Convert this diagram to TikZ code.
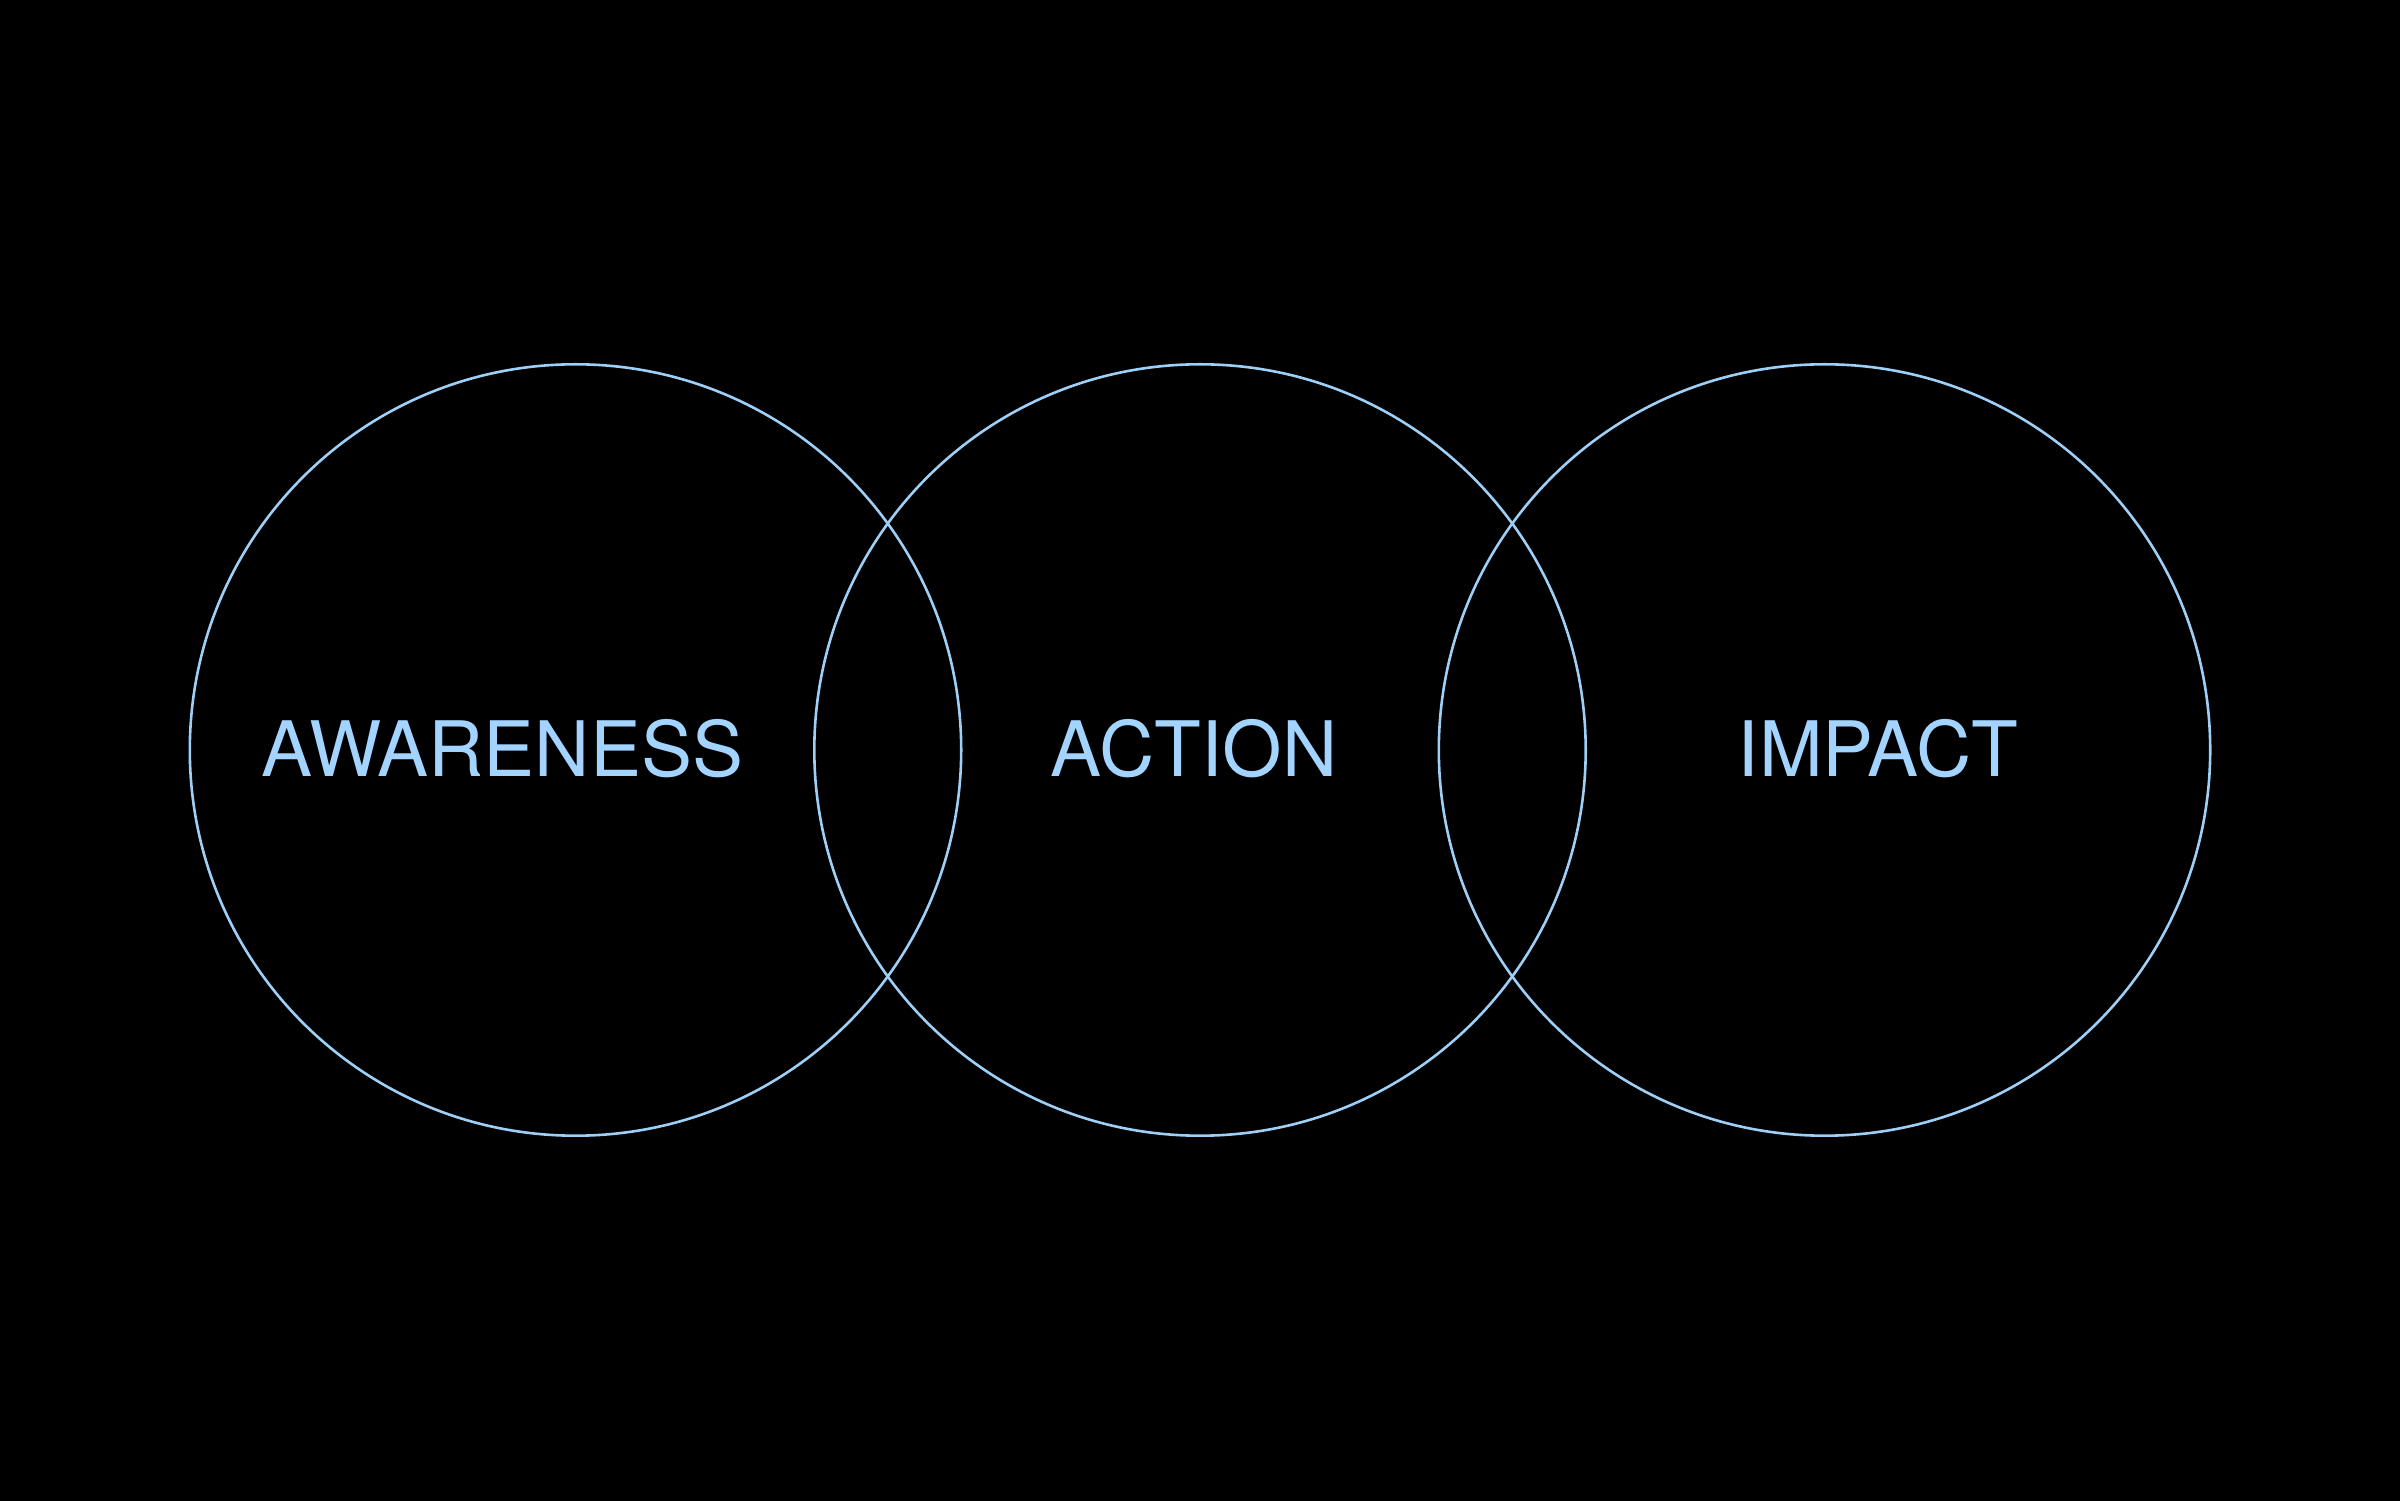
\documentclass[tikz,border=0pt]{standalone}
\usepackage{fontspec}
\setmainfont{TeX Gyre Heros}
\definecolor{ringblue}{HTML}{9ECFF7}
\definecolor{textblue}{HTML}{A2D4FF}
\begin{document}
\begin{tikzpicture}[x=1pt,y=1pt,
  ring/.style={draw=ringblue,line width=2.6pt,circle,minimum size=771.4pt,inner sep=0pt},
  label/.style={text=textblue,font=\fontsize{76.5}{80}\selectfont,anchor=base,inner sep=0pt}]
\useasboundingbox (0,0) rectangle (2400,1500);
\fill[black] (-10,-10) rectangle (2410,1510);
\node[ring] (c1) at (575.5,750) {};
\node[ring] (c2) at (1200,750) {};
\node[ring] (c3) at (1824.5,750) {};
\node[label] (t1) at (502.5,723) {AWARENESS};
\node[label] (t2) at (1194,723) {ACTION};
\node[label] (t3) at (1878,723) {IMPACT};
\end{tikzpicture}
\end{document}
